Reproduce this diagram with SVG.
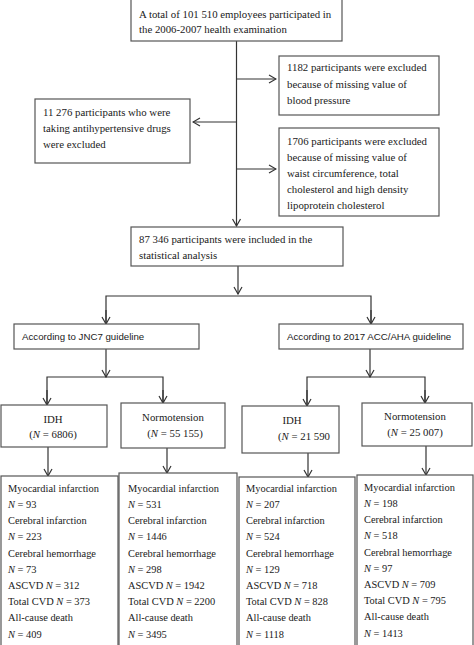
<svg xmlns="http://www.w3.org/2000/svg" width="474" height="645" viewBox="0 0 474 645">
<defs>
<style>
.box{fill:#fff;stroke:#555;stroke-width:1.2}
.t{font-size:10.8px;fill:#1a1a1a}
.b{font-size:10.4px;fill:#1a1a1a}
.s{font-family:'Liberation Sans',Arial,sans-serif;font-size:9.7px;fill:#1a1a1a}
.c{text-anchor:middle}
.ln{fill:none;stroke:#333;stroke-width:1.2}
.i{font-style:italic}
</style>
<marker id="ah" viewBox="0 0 10 10" refX="9" refY="5" markerWidth="10" markerHeight="10" markerUnits="userSpaceOnUse" orient="auto">
<polyline points="2,1 9,5 2,9" fill="none" stroke="#333" stroke-width="1.2"/>
</marker>
</defs>
<rect width="474" height="645" fill="#fff"/>
<g id="connectors">
<line class="ln" x1="236.5" y1="41" x2="236.5" y2="226" marker-end="url(#ah)"/>
<line class="ln" x1="236.5" y1="79" x2="276" y2="79" marker-end="url(#ah)"/>
<line class="ln" x1="236.5" y1="122" x2="193" y2="122" marker-end="url(#ah)"/>
<line class="ln" x1="236.5" y1="169" x2="276" y2="169" marker-end="url(#ah)"/>
<line class="ln" x1="238" y1="266" x2="238" y2="294" marker-end="url(#ah)"/>
<polyline class="ln" points="106,323 106,296 371,296 371,323"/>
<line class="ln" x1="106" y1="310" x2="106" y2="324" marker-end="url(#ah)"/>
<line class="ln" x1="371" y1="310" x2="371" y2="324" marker-end="url(#ah)"/>
<line class="ln" x1="106" y1="349" x2="106" y2="377" marker-end="url(#ah)"/>
<polyline class="ln" points="47,404 47,377 163,377 163,404"/>
<line class="ln" x1="47" y1="390" x2="47" y2="405" marker-end="url(#ah)"/>
<line class="ln" x1="163" y1="390" x2="163" y2="403" marker-end="url(#ah)"/>
<line class="ln" x1="370" y1="349" x2="370" y2="377" marker-end="url(#ah)"/>
<polyline class="ln" points="307,404 307,377 425,377 425,404"/>
<line class="ln" x1="307" y1="390" x2="307" y2="406" marker-end="url(#ah)"/>
<line class="ln" x1="425" y1="390" x2="425" y2="403" marker-end="url(#ah)"/>
<line class="ln" x1="48" y1="447" x2="48" y2="476" marker-end="url(#ah)"/>
<line class="ln" x1="167" y1="448" x2="167" y2="473" marker-end="url(#ah)"/>
<line class="ln" x1="308" y1="453" x2="308" y2="477" marker-end="url(#ah)"/>
<line class="ln" x1="426" y1="446" x2="426" y2="475" marker-end="url(#ah)"/>
</g>
<g font-family="Liberation Serif, Times New Roman, serif">
<g id="n-total">
<rect class="box" x="131" y="-2" width="211" height="43"/>
<text class="t" x="139" y="18">A total of 101 510 employees participated in</text>
<text class="t" x="139" y="33">the 2006-2007 health examination</text>
</g>
<g id="n-excl-bp">
<rect class="box" x="279" y="56" width="160" height="59"/>
<text class="t" x="287" y="71">1182 participants were excluded</text>
<text class="t" x="287" y="88">because of missing value of</text>
<text class="t" x="287" y="104">blood pressure</text>
</g>
<g id="n-excl-drug">
<rect class="box" x="35" y="99" width="155" height="64"/>
<text class="t" x="43" y="116">11 276 participants who were</text>
<text class="t" x="43" y="132">taking antihypertensive drugs</text>
<text class="t" x="43" y="148">were excluded</text>
</g>
<g id="n-excl-waist">
<rect class="box" x="279" y="128" width="160" height="88"/>
<text class="t" x="287" y="145">1706 participants were excluded</text>
<text class="t" x="287" y="161">because of missing value of</text>
<text class="t" x="287" y="177">waist circumference, total</text>
<text class="t" x="287" y="193">cholesterol and high density</text>
<text class="t" x="287" y="209">lipoprotein cholesterol</text>
</g>
<g id="n-included">
<rect class="box" x="131" y="227" width="212" height="39"/>
<text class="t" x="139" y="243">87 346 participants were included in the</text>
<text class="t" x="139" y="259">statistical analysis</text>
</g>
<g id="n-jnc7">
<rect class="box" x="14" y="324" width="185" height="25"/>
<text class="s" x="22" y="340">According to JNC7 guideline</text>
</g>
<g id="n-acc">
<rect class="box" x="279" y="324" width="184" height="25"/>
<text class="s" x="287" y="340">According to 2017 ACC/AHA guideline</text>
</g>
<g id="n-jnc-idh">
<rect class="box" x="1" y="405" width="106" height="42"/>
<text class="t c" x="53" y="423">IDH</text>
<text class="t c" x="53" y="438">(<tspan class="i">N</tspan> = 6806)</text>
</g>
<g id="n-jnc-norm">
<rect class="box" x="121" y="403" width="104" height="45"/>
<text class="t c" x="173" y="421">Normotension</text>
<text class="t c" x="175" y="437">(<tspan class="i">N</tspan> = 55 155)</text>
</g>
<g id="n-acc-idh">
<rect class="box" x="242" y="406" width="97" height="47"/>
<text class="t c" x="292" y="424">IDH</text>
<text class="t" x="278" y="440">(<tspan class="i">N</tspan> = 21 590</text>
</g>
<g id="n-acc-norm">
<rect class="box" x="362" y="403" width="110" height="43"/>
<text class="t c" x="415" y="420">Normotension</text>
<text class="t c" x="415" y="436">(<tspan class="i">N</tspan> = 25 007)</text>
</g>
<g id="n-out-1">
<rect class="box" x="1" y="476" width="117" height="175"/>
<text class="b" x="8" y="492">Myocardial infarction</text>
<text class="b" x="8" y="508"><tspan class="i">N</tspan> = 93</text>
<text class="b" x="8" y="524">Cerebral infarction</text>
<text class="b" x="8" y="540"><tspan class="i">N</tspan> = 223</text>
<text class="b" x="8" y="557">Cerebral hemorrhage</text>
<text class="b" x="8" y="573"><tspan class="i">N</tspan> = 73</text>
<text class="b" x="8" y="589">ASCVD <tspan class="i">N</tspan> = 312</text>
<text class="b" x="8" y="605">Total CVD <tspan class="i">N</tspan> = 373</text>
<text class="b" x="8" y="621">All-cause death</text>
<text class="b" x="8" y="638"><tspan class="i">N</tspan> = 409</text>
</g>
<g id="n-out-2">
<rect class="box" x="119" y="473" width="118" height="178"/>
<text class="b" x="128" y="492">Myocardial infarction</text>
<text class="b" x="128" y="508"><tspan class="i">N</tspan> = 531</text>
<text class="b" x="128" y="524">Cerebral infarction</text>
<text class="b" x="128" y="540"><tspan class="i">N</tspan> = 1446</text>
<text class="b" x="128" y="557">Cerebral hemorrhage</text>
<text class="b" x="128" y="573"><tspan class="i">N</tspan> = 298</text>
<text class="b" x="128" y="589">ASCVD <tspan class="i">N</tspan> = 1942</text>
<text class="b" x="128" y="605">Total CVD <tspan class="i">N</tspan> = 2200</text>
<text class="b" x="128" y="621">All-cause death</text>
<text class="b" x="128" y="638"><tspan class="i">N</tspan> = 3495</text>
</g>
<g id="n-out-3">
<rect class="box" x="239" y="477" width="116" height="174"/>
<text class="b" x="246" y="492">Myocardial infarction</text>
<text class="b" x="246" y="508"><tspan class="i">N</tspan> = 207</text>
<text class="b" x="246" y="524">Cerebral infarction</text>
<text class="b" x="246" y="540"><tspan class="i">N</tspan> = 524</text>
<text class="b" x="246" y="557">Cerebral hemorrhage</text>
<text class="b" x="246" y="573"><tspan class="i">N</tspan> = 129</text>
<text class="b" x="246" y="589">ASCVD <tspan class="i">N</tspan> = 718</text>
<text class="b" x="246" y="605">Total CVD <tspan class="i">N</tspan> = 828</text>
<text class="b" x="246" y="621">All-cause death</text>
<text class="b" x="246" y="638"><tspan class="i">N</tspan> = 1118</text>
</g>
<g id="n-out-4">
<rect class="box" x="357" y="475" width="116" height="176"/>
<text class="b" x="364" y="491">Myocardial infarction</text>
<text class="b" x="364" y="507"><tspan class="i">N</tspan> = 198</text>
<text class="b" x="364" y="523">Cerebral infarction</text>
<text class="b" x="364" y="539"><tspan class="i">N</tspan> = 518</text>
<text class="b" x="364" y="556">Cerebral hemorrhage</text>
<text class="b" x="364" y="572"><tspan class="i">N</tspan> = 97</text>
<text class="b" x="364" y="588">ASCVD <tspan class="i">N</tspan> = 709</text>
<text class="b" x="364" y="604">Total CVD <tspan class="i">N</tspan> = 795</text>
<text class="b" x="364" y="620">All-cause death</text>
<text class="b" x="364" y="637"><tspan class="i">N</tspan> = 1413</text>
</g>
</g>
</svg>
